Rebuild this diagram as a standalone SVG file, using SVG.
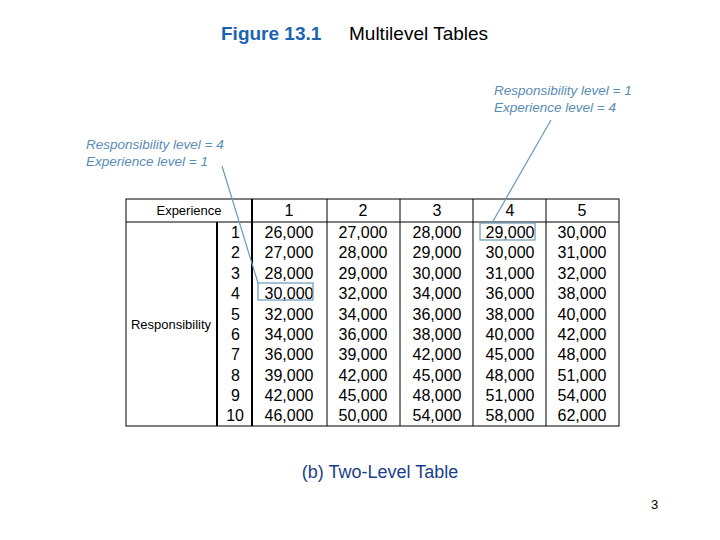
<svg xmlns="http://www.w3.org/2000/svg" width="720" height="540" viewBox="0 0 720 540">
<style>
text{font-family:"Liberation Sans",Arial,sans-serif}
.c{font-size:16px;text-anchor:middle;fill:#000}
.r{font-size:16px;text-anchor:end;fill:#000}
.note{font-size:13.5px;font-style:italic;fill:#5a8db5}
.g{stroke:#000;stroke-width:1;fill:none}
.t{stroke:#000;stroke-width:2;fill:none}
.hl{stroke:#6a9ab8;stroke-width:1.2;fill:none}
</style>
<rect width="720" height="540" fill="#fff"/>
<text x="221" y="40" font-size="19" font-weight="bold" fill="#1c64b0">Figure 13.1</text>
<text x="349" y="40" font-size="19" fill="#000">Multilevel Tables</text>
<g id="note-right"><text class="note" x="494" y="95">Responsibility level = 1</text><text class="note" x="494" y="112">Experience level = 4</text></g>
<g id="note-left"><text class="note" x="86" y="149">Responsibility level = 4</text><text class="note" x="86" y="166">Experience level = 1</text></g>
<g id="table">
<rect class="g" x="126" y="199" width="493" height="227"/>
<line class="g" x1="126" y1="222" x2="619" y2="222"/>
<line class="t" x1="252" y1="199" x2="252" y2="426"/>
<line class="t" x1="217" y1="222" x2="217" y2="426"/>
<line class="g" x1="327" y1="199" x2="327" y2="426"/>
<line class="g" x1="400" y1="199" x2="400" y2="426"/>
<line class="g" x1="473" y1="199" x2="473" y2="426"/>
<line class="g" x1="546" y1="199" x2="546" y2="426"/>
<text x="189" y="215" font-size="13" text-anchor="middle">Experience</text>
<text x="171" y="329" font-size="13" text-anchor="middle">Responsibility</text>
<g>
<text x="289" y="216" class="c">1</text><text x="363" y="216" class="c">2</text><text x="437" y="216" class="c">3</text><text x="510" y="216" class="c">4</text><text x="582" y="216" class="c">5</text>
</g>
<g>
<text class="r" x="240" y="238">1</text><text class="r" x="240" y="258">2</text><text class="r" x="240" y="279">3</text><text class="r" x="240" y="299">4</text><text class="r" x="240" y="320">5</text><text class="r" x="240" y="340">6</text><text class="r" x="240" y="360">7</text><text class="r" x="240" y="381">8</text><text class="r" x="240" y="401">9</text><text class="r" x="244" y="421">10</text>
</g>
<g>
<text class="c" x="289" y="238">26,000</text><text class="c" x="289" y="258">27,000</text><text class="c" x="289" y="279">28,000</text><text class="c" x="289" y="299">30,000</text><text class="c" x="289" y="320">32,000</text><text class="c" x="289" y="340">34,000</text><text class="c" x="289" y="360">36,000</text><text class="c" x="289" y="381">39,000</text><text class="c" x="289" y="401">42,000</text><text class="c" x="289" y="421">46,000</text>
<text class="c" x="363" y="238">27,000</text><text class="c" x="363" y="258">28,000</text><text class="c" x="363" y="279">29,000</text><text class="c" x="363" y="299">32,000</text><text class="c" x="363" y="320">34,000</text><text class="c" x="363" y="340">36,000</text><text class="c" x="363" y="360">39,000</text><text class="c" x="363" y="381">42,000</text><text class="c" x="363" y="401">45,000</text><text class="c" x="363" y="421">50,000</text>
<text class="c" x="437" y="238">28,000</text><text class="c" x="437" y="258">29,000</text><text class="c" x="437" y="279">30,000</text><text class="c" x="437" y="299">34,000</text><text class="c" x="437" y="320">36,000</text><text class="c" x="437" y="340">38,000</text><text class="c" x="437" y="360">42,000</text><text class="c" x="437" y="381">45,000</text><text class="c" x="437" y="401">48,000</text><text class="c" x="437" y="421">54,000</text>
<text class="c" x="510" y="238">29,000</text><text class="c" x="510" y="258">30,000</text><text class="c" x="510" y="279">31,000</text><text class="c" x="510" y="299">36,000</text><text class="c" x="510" y="320">38,000</text><text class="c" x="510" y="340">40,000</text><text class="c" x="510" y="360">45,000</text><text class="c" x="510" y="381">48,000</text><text class="c" x="510" y="401">51,000</text><text class="c" x="510" y="421">58,000</text>
<text class="c" x="582" y="238">30,000</text><text class="c" x="582" y="258">31,000</text><text class="c" x="582" y="279">32,000</text><text class="c" x="582" y="299">38,000</text><text class="c" x="582" y="320">40,000</text><text class="c" x="582" y="340">42,000</text><text class="c" x="582" y="360">48,000</text><text class="c" x="582" y="381">51,000</text><text class="c" x="582" y="401">54,000</text><text class="c" x="582" y="421">62,000</text>
</g>
</g>
<g id="connectors">
<rect class="hl" x="258" y="283" width="55" height="17"/>
<rect class="hl" x="480" y="223" width="55" height="17"/>
<line class="hl" x1="222" y1="166" x2="258" y2="283"/>
<line class="hl" x1="551" y1="120" x2="492" y2="223"/>
</g>
<text x="380" y="478" font-size="18" text-anchor="middle" fill="#1a3f8a">(b) Two-Level Table</text>
<text x="651" y="509" font-size="13" fill="#000">3</text>
</svg>
